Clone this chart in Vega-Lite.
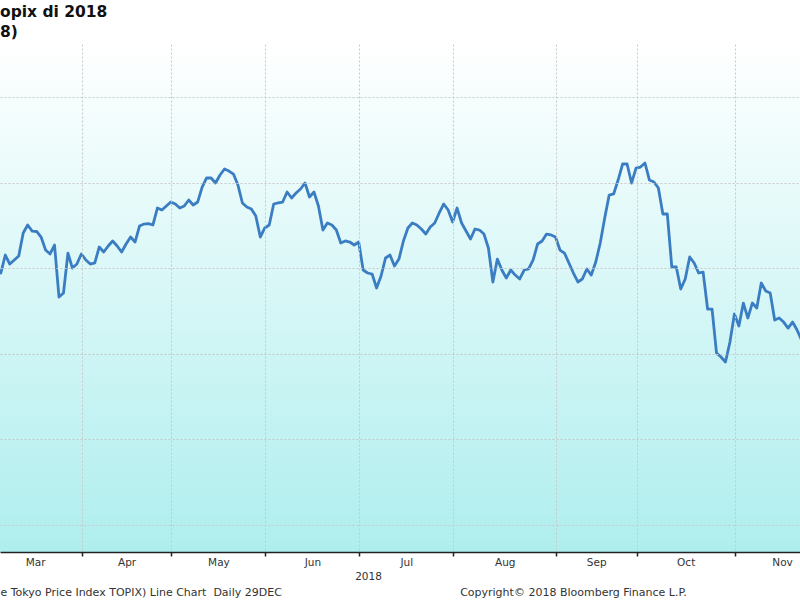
{
  "$schema": "https://vega.github.io/schema/vega-lite/v6.json",
  "width": 800,
  "height": 508,
  "autosize": {"type": "none"},
  "padding": {"left": 0, "top": 44, "right": 0, "bottom": 48},
  "background": "#ffffff",
  "config": {"view": {"stroke": null}},
  "title": {
    "text": "opix di 2018",
    "subtitle": "8)",
    "anchor": "start",
    "frame": "group",
    "orient": "top",
    "offset": 4,
    "font": "DejaVu Sans",
    "fontSize": 15.5,
    "fontWeight": "bold",
    "color": "#111111",
    "subtitleFont": "DejaVu Sans",
    "subtitleFontSize": 15.5,
    "subtitleFontWeight": "bold",
    "subtitleColor": "#111111",
    "subtitlePadding": 4
  },
  "data": {"values": [
    {"d": 1, "close": 1697.9}, {"d": 2, "close": 1694.4}, {"d": 3, "close": 1715.4}, {"d": 4, "close": 1704.9},
    {"d": 5, "close": 1709.6}, {"d": 6, "close": 1714.2}, {"d": 7, "close": 1741.1}, {"d": 8, "close": 1750.5},
    {"d": 9, "close": 1743.4}, {"d": 10, "close": 1742.9}, {"d": 11, "close": 1736.4}, {"d": 12, "close": 1721.2},
    {"d": 13, "close": 1716.6}, {"d": 14, "close": 1727.1}, {"d": 15, "close": 1666.3}, {"d": 16, "close": 1671.0},
    {"d": 17, "close": 1717.7}, {"d": 18, "close": 1700.2}, {"d": 19, "close": 1704.9}, {"d": 20, "close": 1716.6},
    {"d": 21, "close": 1709.6}, {"d": 22, "close": 1704.9}, {"d": 23, "close": 1706.1}, {"d": 24, "close": 1724.8},
    {"d": 25, "close": 1718.9}, {"d": 26, "close": 1725.9}, {"d": 27, "close": 1731.8}, {"d": 28, "close": 1725.9},
    {"d": 29, "close": 1718.9}, {"d": 30, "close": 1728.3}, {"d": 31, "close": 1736.4}, {"d": 32, "close": 1730.6},
    {"d": 33, "close": 1749.3}, {"d": 34, "close": 1751.6}, {"d": 35, "close": 1752.0}, {"d": 36, "close": 1750.5},
    {"d": 37, "close": 1770.3}, {"d": 38, "close": 1768.0}, {"d": 39, "close": 1772.7}, {"d": 40, "close": 1777.3},
    {"d": 41, "close": 1775.0}, {"d": 42, "close": 1770.3}, {"d": 43, "close": 1772.7}, {"d": 44, "close": 1779.7},
    {"d": 45, "close": 1773.8}, {"d": 46, "close": 1777.3}, {"d": 47, "close": 1794.8}, {"d": 48, "close": 1805.4},
    {"d": 49, "close": 1805.4}, {"d": 50, "close": 1799.5}, {"d": 51, "close": 1808.9}, {"d": 52, "close": 1815.9},
    {"d": 53, "close": 1813.5}, {"d": 54, "close": 1810.0}, {"d": 55, "close": 1797.2}, {"d": 56, "close": 1776.2},
    {"d": 57, "close": 1771.5}, {"d": 58, "close": 1769.1}, {"d": 59, "close": 1761.0}, {"d": 60, "close": 1736.4},
    {"d": 61, "close": 1747.0}, {"d": 62, "close": 1750.5}, {"d": 63, "close": 1775.0}, {"d": 64, "close": 1776.2},
    {"d": 65, "close": 1777.3}, {"d": 66, "close": 1789.0}, {"d": 67, "close": 1782.0}, {"d": 68, "close": 1787.8},
    {"d": 69, "close": 1792.5}, {"d": 70, "close": 1799.5}, {"d": 71, "close": 1783.2}, {"d": 72, "close": 1789.0},
    {"d": 73, "close": 1772.7}, {"d": 74, "close": 1744.6}, {"d": 75, "close": 1752.8}, {"d": 76, "close": 1750.5},
    {"d": 77, "close": 1744.6}, {"d": 78, "close": 1729.4}, {"d": 79, "close": 1731.8}, {"d": 80, "close": 1730.6},
    {"d": 81, "close": 1727.1}, {"d": 82, "close": 1730.6}, {"d": 83, "close": 1697.9}, {"d": 84, "close": 1694.4},
    {"d": 85, "close": 1693.2}, {"d": 86, "close": 1676.9}, {"d": 87, "close": 1690.9}, {"d": 88, "close": 1711.9},
    {"d": 89, "close": 1715.4}, {"d": 90, "close": 1702.6}, {"d": 91, "close": 1710.7}, {"d": 92, "close": 1731.8},
    {"d": 93, "close": 1747.0}, {"d": 94, "close": 1752.8}, {"d": 95, "close": 1750.5}, {"d": 96, "close": 1745.8},
    {"d": 97, "close": 1739.9}, {"d": 98, "close": 1748.1}, {"d": 99, "close": 1752.8}, {"d": 100, "close": 1764.5},
    {"d": 101, "close": 1775.0}, {"d": 102, "close": 1768.0}, {"d": 103, "close": 1754.0}, {"d": 104, "close": 1770.3},
    {"d": 105, "close": 1752.8}, {"d": 106, "close": 1743.4}, {"d": 107, "close": 1734.1}, {"d": 108, "close": 1745.8},
    {"d": 109, "close": 1744.6}, {"d": 110, "close": 1739.9}, {"d": 111, "close": 1723.6}, {"d": 112, "close": 1683.9},
    {"d": 113, "close": 1710.7}, {"d": 114, "close": 1697.9}, {"d": 115, "close": 1688.5}, {"d": 116, "close": 1697.9},
    {"d": 117, "close": 1692.0}, {"d": 118, "close": 1687.4}, {"d": 119, "close": 1697.9}, {"d": 120, "close": 1699.1},
    {"d": 121, "close": 1709.6}, {"d": 122, "close": 1728.3}, {"d": 123, "close": 1731.8}, {"d": 124, "close": 1739.9},
    {"d": 125, "close": 1738.8}, {"d": 126, "close": 1736.4}, {"d": 127, "close": 1721.2}, {"d": 128, "close": 1717.7},
    {"d": 129, "close": 1706.1}, {"d": 130, "close": 1694.4}, {"d": 131, "close": 1683.9}, {"d": 132, "close": 1687.4},
    {"d": 133, "close": 1699.1}, {"d": 134, "close": 1692.0}, {"d": 135, "close": 1707.2}, {"d": 136, "close": 1729.4},
    {"d": 137, "close": 1758.6}, {"d": 138, "close": 1785.5}, {"d": 139, "close": 1786.7}, {"d": 140, "close": 1803.0},
    {"d": 141, "close": 1821.7}, {"d": 142, "close": 1821.7}, {"d": 143, "close": 1799.5}, {"d": 144, "close": 1817.0},
    {"d": 145, "close": 1818.2}, {"d": 146, "close": 1822.9}, {"d": 147, "close": 1803.0}, {"d": 148, "close": 1800.7},
    {"d": 149, "close": 1793.7}, {"d": 150, "close": 1763.3}, {"d": 151, "close": 1763.3}, {"d": 152, "close": 1701.4},
    {"d": 153, "close": 1701.4}, {"d": 154, "close": 1675.7}, {"d": 155, "close": 1687.4}, {"d": 156, "close": 1713.1},
    {"d": 157, "close": 1706.1}, {"d": 158, "close": 1694.4}, {"d": 159, "close": 1695.5}, {"d": 160, "close": 1652.3},
    {"d": 161, "close": 1652.3}, {"d": 162, "close": 1600.9}, {"d": 163, "close": 1596.3}, {"d": 164, "close": 1590.4},
    {"d": 165, "close": 1613.8}, {"d": 166, "close": 1646.5}, {"d": 167, "close": 1632.5}, {"d": 168, "close": 1659.3},
    {"d": 169, "close": 1641.8}, {"d": 170, "close": 1659.3}, {"d": 171, "close": 1653.5}, {"d": 172, "close": 1682.7},
    {"d": 173, "close": 1673.4}, {"d": 174, "close": 1671.0}, {"d": 175, "close": 1639.5}, {"d": 176, "close": 1641.8},
    {"d": 177, "close": 1637.1}, {"d": 178, "close": 1630.1}, {"d": 179, "close": 1637.1}, {"d": 180, "close": 1627.8},
    {"d": 181, "close": 1616.1}
  ]},
  "layer": [
    {
      "data": {"values": [{"panel": "plot"}]},
      "mark": {
        "type": "rect",
        "color": {
          "gradient": "linear",
          "x1": 0, "y1": 0, "x2": 0, "y2": 1,
          "stops": [
            {"offset": 0, "color": "#ffffff"},
            {"offset": 1, "color": "#afeeee"}
          ]
        }
      },
      "encoding": {}
    },
    {
      "mark": {"type": "line", "color": "#3a7dc2", "strokeWidth": 2.8, "clip": true, "strokeJoin": "round"},
      "encoding": {
        "x": {
          "field": "d",
          "type": "quantitative",
          "scale": {"domain": [1.81, 180.66], "nice": false, "zero": false},
          "axis": {
            "zindex": 1,
            "values": [9.65, 20.15, 30.1, 40.15, 50.65, 61.15, 71.65, 82.15, 92.65, 103.15, 114.65, 126.15, 135.1, 144.15, 155.1, 166.15, 176.65],
            "labelExpr": "abs(datum.value % 1 - 0.15) < 0.01 ? '' : datum.value < 20 ? 'Mar' : datum.value < 40 ? 'Apr' : datum.value < 61 ? 'May' : datum.value < 82 ? 'Jun' : datum.value < 103 ? 'Jul' : datum.value < 126 ? 'Aug' : datum.value < 144 ? 'Sep' : datum.value < 166 ? 'Oct' : 'Nov'",
            "labelOverlap": false,
            "labelFlush": false,
            "labelBound": false,
            "labelFont": "DejaVu Sans",
            "labelFontSize": 10.5,
            "labelColor": "#333333",
            "labelPadding": 1,
            "grid": true,
            "gridColor": "#c8c8c8",
            "gridDash": [2, 2],
            "gridWidth": 1,
            "gridOpacity": {"condition": {"test": "abs(datum.value % 1 - 0.15) < 0.01", "value": 1}, "value": 0},
            "ticks": true,
            "tickSize": 4,
            "tickColor": "#222222",
            "tickWidth": 1.5,
            "tickOpacity": {"condition": {"test": "abs(datum.value % 1 - 0.15) < 0.01", "value": 1}, "value": 0},
            "domain": true,
            "domainColor": "#222222",
            "domainWidth": 1.5,
            "title": "2018",
            "titleX": 368,
            "titleAlign": "center",
            "titleFont": "DejaVu Sans",
            "titleFontSize": 10.5,
            "titleFontWeight": "normal",
            "titleColor": "#333333",
            "titlePadding": 4
          }
        },
        "y": {
          "field": "close",
          "type": "quantitative",
          "scale": {"domain": [1368.5, 1961.9], "nice": false, "zero": false},
          "axis": {
            "zindex": 1,
            "values": [1400, 1500, 1600, 1700, 1800, 1900],
            "labels": false,
            "ticks": false,
            "domain": false,
            "grid": true,
            "gridColor": "#c8c8c8",
            "gridDash": [2, 2],
            "gridWidth": 1,
            "title": "e Tokyo Price Index TOPIX) Line Chart\u00a0 Daily 29DEC\u00a0\u00a0\u00a0\u00a0\u00a0\u00a0\u00a0\u00a0\u00a0\u00a0\u00a0\u00a0\u00a0\u00a0\u00a0\u00a0\u00a0\u00a0\u00a0\u00a0\u00a0\u00a0\u00a0\u00a0\u00a0\u00a0\u00a0\u00a0\u00a0\u00a0\u00a0\u00a0\u00a0\u00a0\u00a0\u00a0\u00a0\u00a0\u00a0\u00a0\u00a0\u00a0\u00a0\u00a0\u00a0\u00a0\u00a0\u00a0\u00a0\u00a0\u00a0Copyright© 2018 Bloomberg Finance L.P.",
            "titleAngle": 0,
            "titleX": 0,
            "titleY": 548,
            "titleAlign": "left",
            "titleBaseline": "middle",
            "titleFont": "DejaVu Sans",
            "titleFontSize": 11,
            "titleFontWeight": "normal",
            "titleColor": "#333333"
          }
        }
      }
    }
  ]
}
